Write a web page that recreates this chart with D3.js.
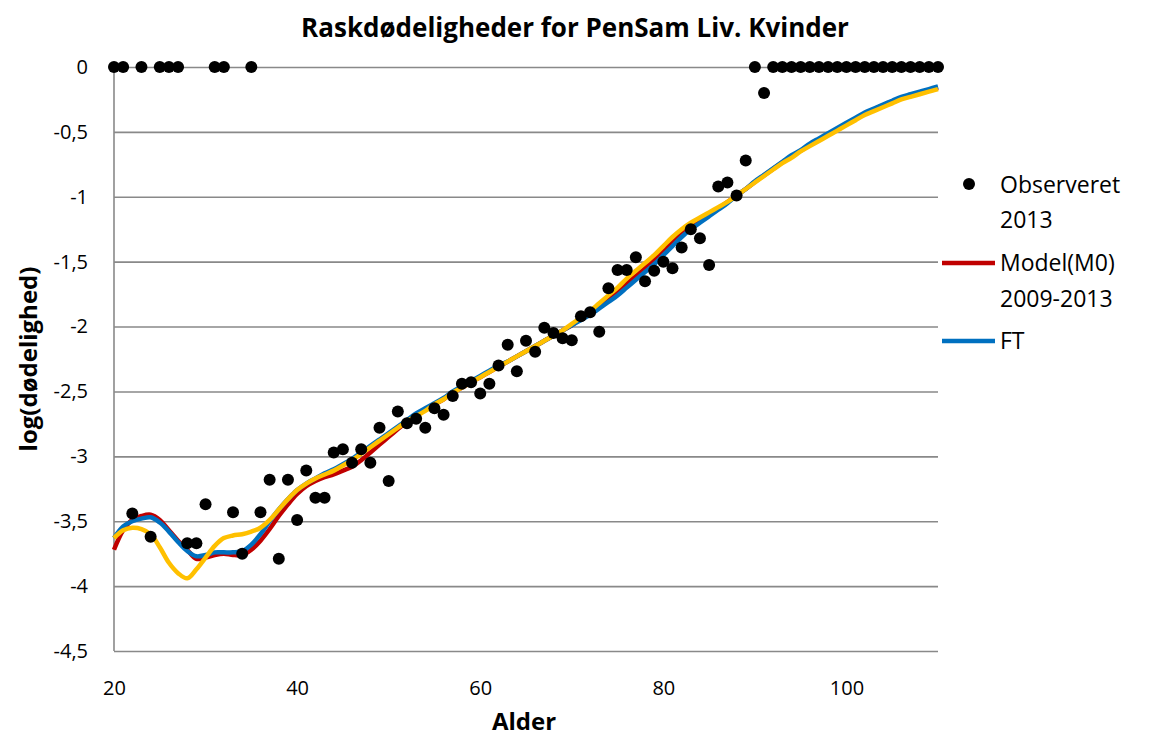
<!DOCTYPE html>
<html>
<head>
<meta charset="utf-8">
<script src="https://cdn.jsdelivr.net/npm/d3@7"></script>
<style>
  body { margin: 0; background: #fff; }
  text { font-family: "Open Sans", "Noto Sans", sans-serif; fill: #000; }
</style>
</head>
<body>
<div id="chart"></div>
<script>
// ages 20..110
const ages = d3.range(20, 111);

// Observeret 2013
const observed = [
  0, 0, -3.44, 0, -3.62, 0, 0, 0, -3.67, -3.67,
  -3.37, 0, 0, -3.43, -3.75, 0, -3.43, -3.18, -3.79, -3.18,
  -3.49, -3.11, -3.32, -3.32, -2.97, -2.945, -3.05, -2.945, -3.05, -2.78,
  -3.19, -2.655, -2.745, -2.71, -2.78, -2.63, -2.68, -2.535, -2.44, -2.43,
  -2.515, -2.44, -2.30, -2.14, -2.345, -2.11, -2.195, -2.01, -2.05, -2.09,
  -2.105, -1.92, -1.89, -2.04, -1.705, -1.564, -1.564, -1.466, -1.65, -1.57,
  -1.50, -1.55, -1.39, -1.25, -1.32, -1.525, -0.92, -0.89, -0.99, -0.72,
  0, -0.20, 0, 0, 0, 0, 0, 0, 0, 0,
  0, 0, 0, 0, 0, 0, 0, 0, 0, 0,
  0
];

// Model(M0) 2009-2013
const model = [
  -3.72, -3.57, -3.49, -3.46, -3.45, -3.49, -3.57, -3.65, -3.72, -3.79,
  -3.78, -3.76, -3.75, -3.76, -3.76, -3.72, -3.65, -3.56, -3.46, -3.37,
  -3.29, -3.23, -3.19, -3.16, -3.14, -3.11, -3.08, -3.03, -2.97, -2.91,
  -2.85, -2.79, -2.73, -2.68, -2.64, -2.60, -2.56, -2.51, -2.47, -2.43,
  -2.39, -2.35, -2.31, -2.27, -2.23, -2.19, -2.15, -2.11, -2.07, -2.03,
  -1.99, -1.94, -1.90, -1.85, -1.79, -1.73, -1.67, -1.61, -1.55, -1.48,
  -1.41, -1.34, -1.27, -1.22, -1.18, -1.14, -1.09, -1.04, -0.99, -0.94,
  -0.885, -0.835, -0.785, -0.735, -0.69, -0.645, -0.60, -0.56, -0.52, -0.48,
  -0.44, -0.40, -0.36, -0.325, -0.295, -0.265, -0.24, -0.22, -0.20, -0.18,
  -0.16
];

// FT
const ft = [
  -3.63, -3.54, -3.50, -3.48, -3.47, -3.51, -3.58, -3.66, -3.73, -3.77,
  -3.76, -3.74, -3.74, -3.74, -3.73, -3.68, -3.60, -3.50, -3.41, -3.33,
  -3.26, -3.21, -3.17, -3.13, -3.10, -3.06, -3.02, -2.97, -2.92, -2.87,
  -2.82, -2.77, -2.72, -2.67, -2.63, -2.59, -2.55, -2.50, -2.46, -2.42,
  -2.38, -2.34, -2.30, -2.27, -2.23, -2.19, -2.15, -2.11, -2.07, -2.03,
  -1.99, -1.95, -1.91, -1.86, -1.81, -1.76, -1.70, -1.64, -1.58, -1.52,
  -1.45, -1.38, -1.31, -1.25, -1.20, -1.15, -1.10, -1.05, -0.99, -0.94,
  -0.88, -0.83, -0.78, -0.73, -0.68, -0.64, -0.59, -0.55, -0.51, -0.47,
  -0.43, -0.39, -0.35, -0.32, -0.29, -0.26, -0.23, -0.21, -0.19, -0.17,
  -0.15
];

// third (yellow) series, not in legend
const yellow = [
  -3.63, -3.57, -3.55, -3.56, -3.60, -3.70, -3.82, -3.90, -3.94, -3.87,
  -3.78, -3.69, -3.63, -3.61, -3.60, -3.58, -3.55, -3.49, -3.41, -3.33,
  -3.26, -3.21, -3.17, -3.14, -3.11, -3.07, -3.03, -2.98, -2.93, -2.88,
  -2.83, -2.78, -2.73, -2.69, -2.65, -2.60, -2.56, -2.51, -2.47, -2.43,
  -2.39, -2.35, -2.31, -2.27, -2.23, -2.19, -2.15, -2.11, -2.07, -2.03,
  -1.98, -1.93, -1.88, -1.82, -1.76, -1.70, -1.63, -1.57, -1.51, -1.45,
  -1.38, -1.31, -1.25, -1.20, -1.16, -1.12, -1.08, -1.04, -0.99, -0.94,
  -0.89, -0.84, -0.79, -0.74, -0.70, -0.65, -0.61, -0.57, -0.53, -0.49,
  -0.45, -0.41, -0.37, -0.34, -0.31, -0.28, -0.25, -0.23, -0.21, -0.19,
  -0.17
];

const yTicks = d3.range(0, -4.51, -0.5);
const xTicks = [20, 40, 60, 80, 100];

const width = 1161;
const height = 738;
const plot = { left: 114, right: 938, top: 67, bottom: 651 };

const svg = d3.select("#chart")
  .append("svg")
  .attr("width", width)
  .attr("height", height);

const x = d3.scaleLinear().domain([20, 110]).range([plot.left, plot.right]);
const y = d3.scaleLinear().domain([-4.5, 0]).range([plot.bottom, plot.top]);

const da = d3.formatLocale({ decimal: ",", thousands: ".", grouping: [3], currency: ["", ""], minus: "-" });
const fmt = da.format(".1~f");

// y axis with gridlines
const yAxis = svg.append("g")
  .attr("transform", `translate(${plot.left},0)`)
  .call(d3.axisLeft(y).tickValues(yTicks).tickFormat(fmt)
    .tickSize(-(plot.right - plot.left)).tickPadding(26));
yAxis.select(".domain").remove();
yAxis.selectAll(".tick line").attr("stroke", "#898989").attr("stroke-width", 1.6);
yAxis.selectAll(".tick text").attr("font-size", 20).style("font-family", "Open Sans");

svg.append("line")
  .attr("x1", plot.left).attr("x2", plot.left)
  .attr("y1", plot.top).attr("y2", plot.bottom)
  .attr("stroke", "#898989").attr("stroke-width", 1.6);

// x axis
const xAxis = svg.append("g")
  .attr("transform", `translate(0,${plot.bottom})`)
  .call(d3.axisBottom(x).tickValues(xTicks).tickSize(0).tickPadding(30));
xAxis.select(".domain").remove();
xAxis.selectAll(".tick text").attr("font-size", 20).style("font-family", "Open Sans");

// lines
const series = [
  { values: model, color: "#C00000" },
  { values: ft, color: "#0070C0" },
  { values: yellow, color: "#FFC000" }
];
const line = d3.line()
  .x((d, i) => x(ages[i]))
  .y(d => y(d))
  .curve(d3.curveCatmullRom.alpha(0.5));

svg.append("g")
  .selectAll("path")
  .data(series)
  .join("path")
  .attr("d", d => line(d.values))
  .attr("fill", "none")
  .attr("stroke", d => d.color)
  .attr("stroke-width", 4.5)
  .attr("stroke-linejoin", "round");

// observed dots
svg.append("g")
  .selectAll("circle")
  .data(observed)
  .join("circle")
  .attr("cx", (d, i) => x(ages[i]))
  .attr("cy", d => y(d))
  .attr("r", 6)
  .attr("fill", "#000");

// titles
svg.append("text")
  .attr("x", 575).attr("y", 37)
  .attr("text-anchor", "middle")
  .attr("font-size", 26).attr("font-weight", "bold")
  .text("Raskdødeligheder for PenSam Liv. Kvinder");

svg.append("text")
  .attr("transform", "translate(37,359) rotate(-90)")
  .attr("text-anchor", "middle")
  .attr("font-size", 24).attr("font-weight", "bold")
  .text("log(dødelighed)");

svg.append("text")
  .attr("x", 524).attr("y", 730)
  .attr("text-anchor", "middle")
  .attr("font-size", 24).attr("font-weight", "bold")
  .text("Alder");

// legend
const legend = svg.append("g");
legend.append("circle").attr("cx", 969).attr("cy", 184).attr("r", 6).attr("fill", "#000");
legend.append("line").attr("x1", 942).attr("x2", 995).attr("y1", 263).attr("y2", 263)
  .attr("stroke", "#C00000").attr("stroke-width", 4.5);
legend.append("line").attr("x1", 942).attr("x2", 995).attr("y1", 341).attr("y2", 341)
  .attr("stroke", "#0070C0").attr("stroke-width", 4.5);

const legendText = [
  ["Observeret", 193], ["2013", 228],
  ["Model(M0)", 271], ["2009-2013", 307],
  ["FT", 349]
];
legend.selectAll("text.lg")
  .data(legendText)
  .join("text")
  .attr("class", "lg")
  .attr("x", 1000)
  .attr("y", d => d[1])
  .attr("font-size", 23)
  .text(d => d[0]);
</script>
</body>
</html>
